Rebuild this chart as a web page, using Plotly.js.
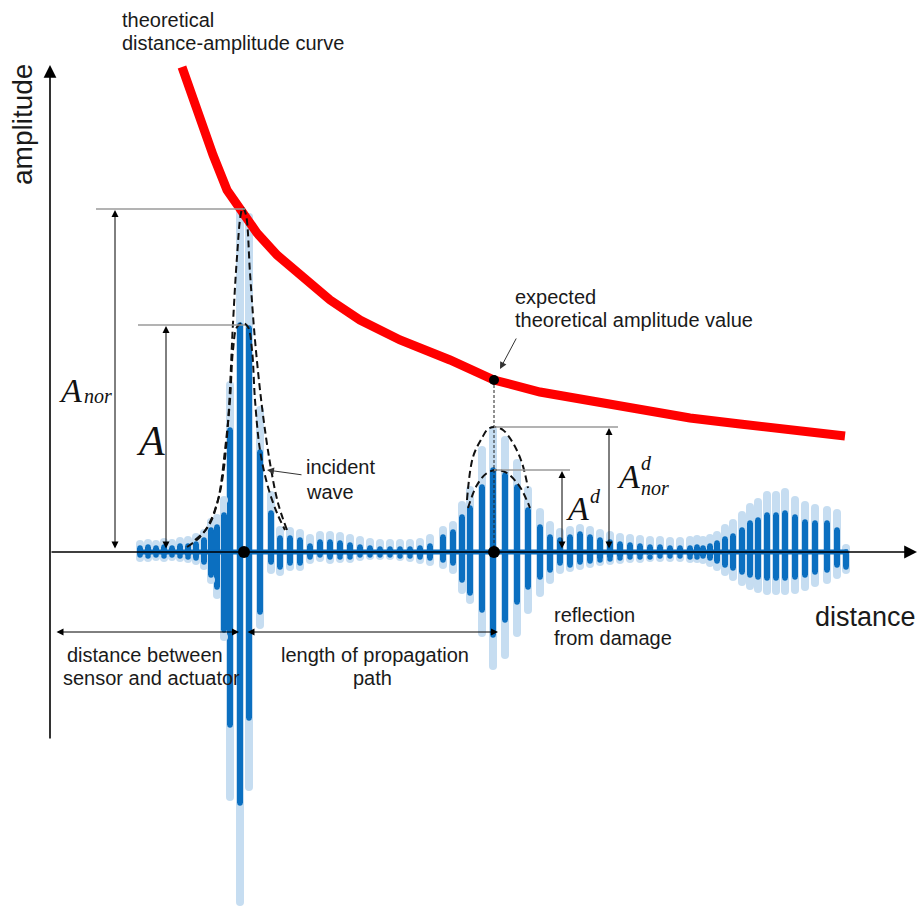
<!DOCTYPE html>
<html>
<head>
<meta charset="utf-8">
<script src="https://cdn.plot.ly/plotly-3.0.1.min.js"></script>
<style>html,body{margin:0;padding:0;background:#fff;}#chart{width:918px;height:908px;}</style>
</head>
<body>
<div id="chart"></div>
<script>
// ---- data (distance units along x, amplitude units along y; baseline amplitude = 0) ----
const strokeX = [140,148,156,164,172,180,188,196,204,211,
  217,224,230,240,249,260,271,280,290,300,
  310,320,330,340,350,360,370,380,390,400,
  410,420,430,443,453,462,470,482,493,505,
  517,528,540,550,560,570,580,590,600,610,
  620,630,640,650,660,670,680,690,697,703,
  710,717,725,733,742,750,758,767,776,785,
  795,805,815,827,837,846];
const darkPeak = [4,5,4,5,4,6,6,8,12,22,
  25,37,122,227,224,100,39,14,14,12,
  6,10,10,9,7,5,4,3,3,3,
  3,4,6,15,20,35,44,65,82,77,
  65,42,25,15,12,15,18,15,12,10,
  8,7,6,5,5,4,4,4,5,4,
  6,9,13,16,22,29,32,37,37,39,
  35,30,29,29,22,0];
const darkTrough = [-3,-4,-3,-4,-3,-4,-5,-6,-10,-23,
  -35,-78,-173,-251,-166,-60,-10,-15,-11,-11,
  -5,-3,-5,-5,-5,-3,-3,-3,-3,-4,
  -4,-5,-6,-8,-11,-28,-41,-58,-83,-68,
  -50,-35,-25,-18,-11,-13,-10,-9,-8,-7,
  -6,-5,-5,-5,-4,-4,-4,-5,-5,-4,
  -6,-9,-13,-16,-20,-23,-25,-26,-26,-26,
  -25,-23,-20,-18,-13,-15];
const lightPeak = [8,9,8,10,9,11,12,15,19,30,
  34,52,167,340,335,142,57,22,21,19,
  14,17,17,16,14,12,10,9,9,9,
  9,10,14,22,27,47,62,102,122,112,
  89,62,40,27,20,22,24,22,19,17,
  15,14,13,12,12,11,11,12,13,12,
  14,17,24,29,37,45,50,57,57,60,
  52,47,44,42,39,4];
const lightTrough = [-6,-6,-5,-6,-5,-6,-7,-9,-14,-28,
  -43,-85,-245,-350,-235,-73,-18,-20,-15,-15,
  -8,-6,-8,-7,-7,-5,-4,-4,-4,-5,
  -6,-8,-10,-13,-18,-38,-48,-81,-114,-103,
  -81,-58,-41,-28,-18,-16,-14,-12,-10,-9,
  -8,-7,-7,-6,-6,-6,-6,-7,-7,-8,
  -11,-15,-20,-25,-30,-34,-37,-39,-39,-39,
  -38,-35,-31,-28,-23,-18];

// theoretical distance-amplitude curve
const curveX   = [182,200,213,227,240,257,277,303,330,360,400,450,494,540,600,690,740,800,845];
const curveAmp = [485,432,397,362,342,319,297,275,252,232,212,192,172,160,149,134,128,122,116];

// dashed envelopes
const outerIncX = [187,200,210,218,223,228,233,237,241,243,246,250,255,262,270,278,287];
const outerIncY = [5,15,30,52,77,129,229,295,339,344,337,279,212,145,89,49,22];
const innerIncX = [195,208,218,225,230,233,237,243,248,252,255,260,268,277,285];
const innerIncY = [12,25,52,102,152,202,225,229,225,202,152,102,65,39,22];
const outerRefX = [467,473,482,488,495,503,513,522,528];
const outerRefY = [52,95,114,123,125,122,109,89,64];
const innerRefX = [468,477,487,497,507,520,530];
const innerRefY = [44,67,79,82,79,65,44];

const incidentX = 244;
const reflectionX = 494;

// ---- derived values ----
const A_nor = 343;   // light-signal maximum at the incident wave
const A_inc = Math.max(...darkPeak);
const refIdx = strokeX.map((x,i)=>i).filter(i => strokeX[i] > 400 && strokeX[i] < 600);
const A_d = Math.max(...refIdx.map(i => darkPeak[i]));
const A_nor_d = 125;
const expectedAmp = curveAmp[curveX.indexOf(reflectionX)];

const DARK = '#0b6fc0', LIGHT = '#c6ddf1';
const SANS = 'Liberation Sans, Arial, sans-serif';
const SERIF = 'Liberation Serif, Times New Roman, serif';

const DASH = {color:'#111', width:2, dash:'7px,4px', shape:'spline'};
const traces = [
  {type:'bar', x: strokeX, base: lightTrough, y: lightPeak.map((p,i)=>p-lightTrough[i]),
   width: 8, marker:{color: LIGHT, line:{width:0}}, hoverinfo:'skip'},
  {type:'scatter', mode:'markers', x: strokeX.concat(strokeX), y: lightPeak.concat(lightTrough),
   marker:{color: LIGHT, size:8, line:{width:0}}, hoverinfo:'skip'},
  {type:'bar', x: strokeX, base: darkTrough, y: darkPeak.map((p,i)=>p-darkTrough[i]),
   width: 5.5, marker:{color: DARK, line:{width:0}}, hoverinfo:'skip'},
  {type:'scatter', mode:'markers', x: strokeX.concat(strokeX), y: darkPeak.concat(darkTrough),
   marker:{color: DARK, size:5.5, line:{width:0}}, hoverinfo:'skip'},
  {type:'scatter', mode:'lines', x:[strokeX[0]-2, strokeX[strokeX.length-1]+2], y:[0,0],
   line:{color: DARK, width:5}, hoverinfo:'skip'},
  {type:'scatter', mode:'lines', x: curveX, y: curveAmp, line:{color:'#ff0000', width:9}, hoverinfo:'skip'},
  {type:'scatter', mode:'lines', x: outerIncX, y: outerIncY, line: DASH, hoverinfo:'skip'},
  {type:'scatter', mode:'lines', x: innerIncX, y: innerIncY, line: DASH, hoverinfo:'skip'},
  {type:'scatter', mode:'lines', x: outerRefX, y: outerRefY, line: DASH, hoverinfo:'skip'},
  {type:'scatter', mode:'lines', x: innerRefX, y: innerRefY, line: DASH, hoverinfo:'skip'},
  {type:'scatter', mode:'lines', x:[reflectionX, reflectionX], y:[expectedAmp, 0], line:{color:'#222', width:1, dash:'3px,2px'}, hoverinfo:'skip'},
  {type:'scatter', mode:'markers', x:[incidentX, reflectionX], y:[0,0], marker:{color:'#000', size:12}, hoverinfo:'skip'},
  {type:'scatter', mode:'markers', x:[reflectionX], y:[expectedAmp], marker:{color:'#000', size:10}, hoverinfo:'skip'}
];

function hline(y, x0, x1){
  return {type:'line', xref:'x', yref:'y', x0, x1, y0:y, y1:y, line:{color:'#9a9a9a', width:1.3}, layer:'above'};
}
const shapes = [
  hline(A_nor, 96, incidentX+1),
  hline(A_inc, 138, incidentX+1),
  hline(A_nor_d, reflectionX, 618),
  hline(A_d, reflectionX, 570)
];

function arrow(x, y, ax, ay, o){
  return Object.assign({x, y, ax, ay, xref:'x', yref:'y', axref:'x', ayref:'y', text:'', showarrow:true,
    arrowhead:2, arrowsize:1.4, arrowwidth:1, arrowcolor:'#000', standoff:0, startstandoff:0}, o||{});
}
function dbl(x, y, ax, ay, o){
  return arrow(x, y, ax, ay, Object.assign({arrowside:'end+start', startarrowhead:2, startarrowsize:1.4}, o||{}));
}
function label(text, x, y, size, o){
  return Object.assign({x, y, xref:'x', yref:'y', text, showarrow:false,
    font:{family:SANS, size, color:'#1a1a1a'}, xanchor:'left', yanchor:'middle'}, o||{});
}
function math(text, x, y, size, o){
  return Object.assign({x, y, xref:'x', yref:'y', text:'<i>'+text+'</i>', showarrow:false,
    font:{family:SERIF, size, color:'#111'}, xanchor:'center', yanchor:'middle'}, o||{});
}

const annotations = [
  // axes
  arrow(917, 0, 50, 0, {arrowwidth:1.6, arrowsize:1.6}),
  arrow(50, 487, 50, -188, {arrowwidth:1.6, arrowsize:1.6}),
  // dimension arrows
  dbl(115, A_nor-1, 115, 2),
  dbl(166, A_inc-1, 166, 2),
  dbl(562, A_d-1, 562, 2),
  dbl(609, A_nor_d-1, 609, 2),
  dbl(239, -80, 55, -80),
  dbl(498, -80, 246, -80),
  // pointers
  arrow(267, 82, 303, 77, {arrowcolor:'#333'}),
  arrow(500, expectedAmp+11, 517, 215, {arrowcolor:'#333'}),
  // texts
  label('theoretical', 120, 532, 20),
  label('distance-amplitude curve', 120, 509, 20),
  label('amplitude', 22, 427, 28, {xanchor:'center', textangle:-90}),
  label('distance', 865, -65, 27, {xanchor:'center'}),
  label('expected', 513, 255, 20),
  label('theoretical amplitude value', 513, 232, 20),
  label('incident', 304, 85, 20),
  label('wave', 304, 60, 20),
  label('reflection', 552, -63, 20),
  label('from damage', 552, -86, 20),
  label('distance between', 145, -103, 20, {xanchor:'center'}),
  label('sensor and actuator', 151, -126, 20, {xanchor:'center'}),
  label('length of propagation', 375, -103, 20, {xanchor:'center'}),
  label('path', 372, -126, 20, {xanchor:'center'}),
  // math labels
  math('A', 70, 162, 34),
  math('nor', 82, 156, 20, {xanchor:'left'}),
  math('A', 150, 111, 42),
  math('A', 577, 44, 34),
  math('d', 595, 56, 20),
  math('A', 628, 76, 34),
  math('d', 646, 89, 20),
  math('nor', 639, 64, 20, {xanchor:'left'})
];

const layout = {
  width: 918, height: 908,
  margin:{l:0, r:0, t:0, b:0},
  paper_bgcolor:'#ffffff', plot_bgcolor:'#ffffff',
  xaxis:{range:[0,918], visible:false, fixedrange:true},
  yaxis:{range:[-356,552], visible:false, fixedrange:true},
  showlegend:false, barmode:'overlay', bargap:0,
  shapes, annotations
};

Plotly.newPlot('chart', traces, layout, {staticPlot:true, displayModeBar:false});
</script>
</body>
</html>
